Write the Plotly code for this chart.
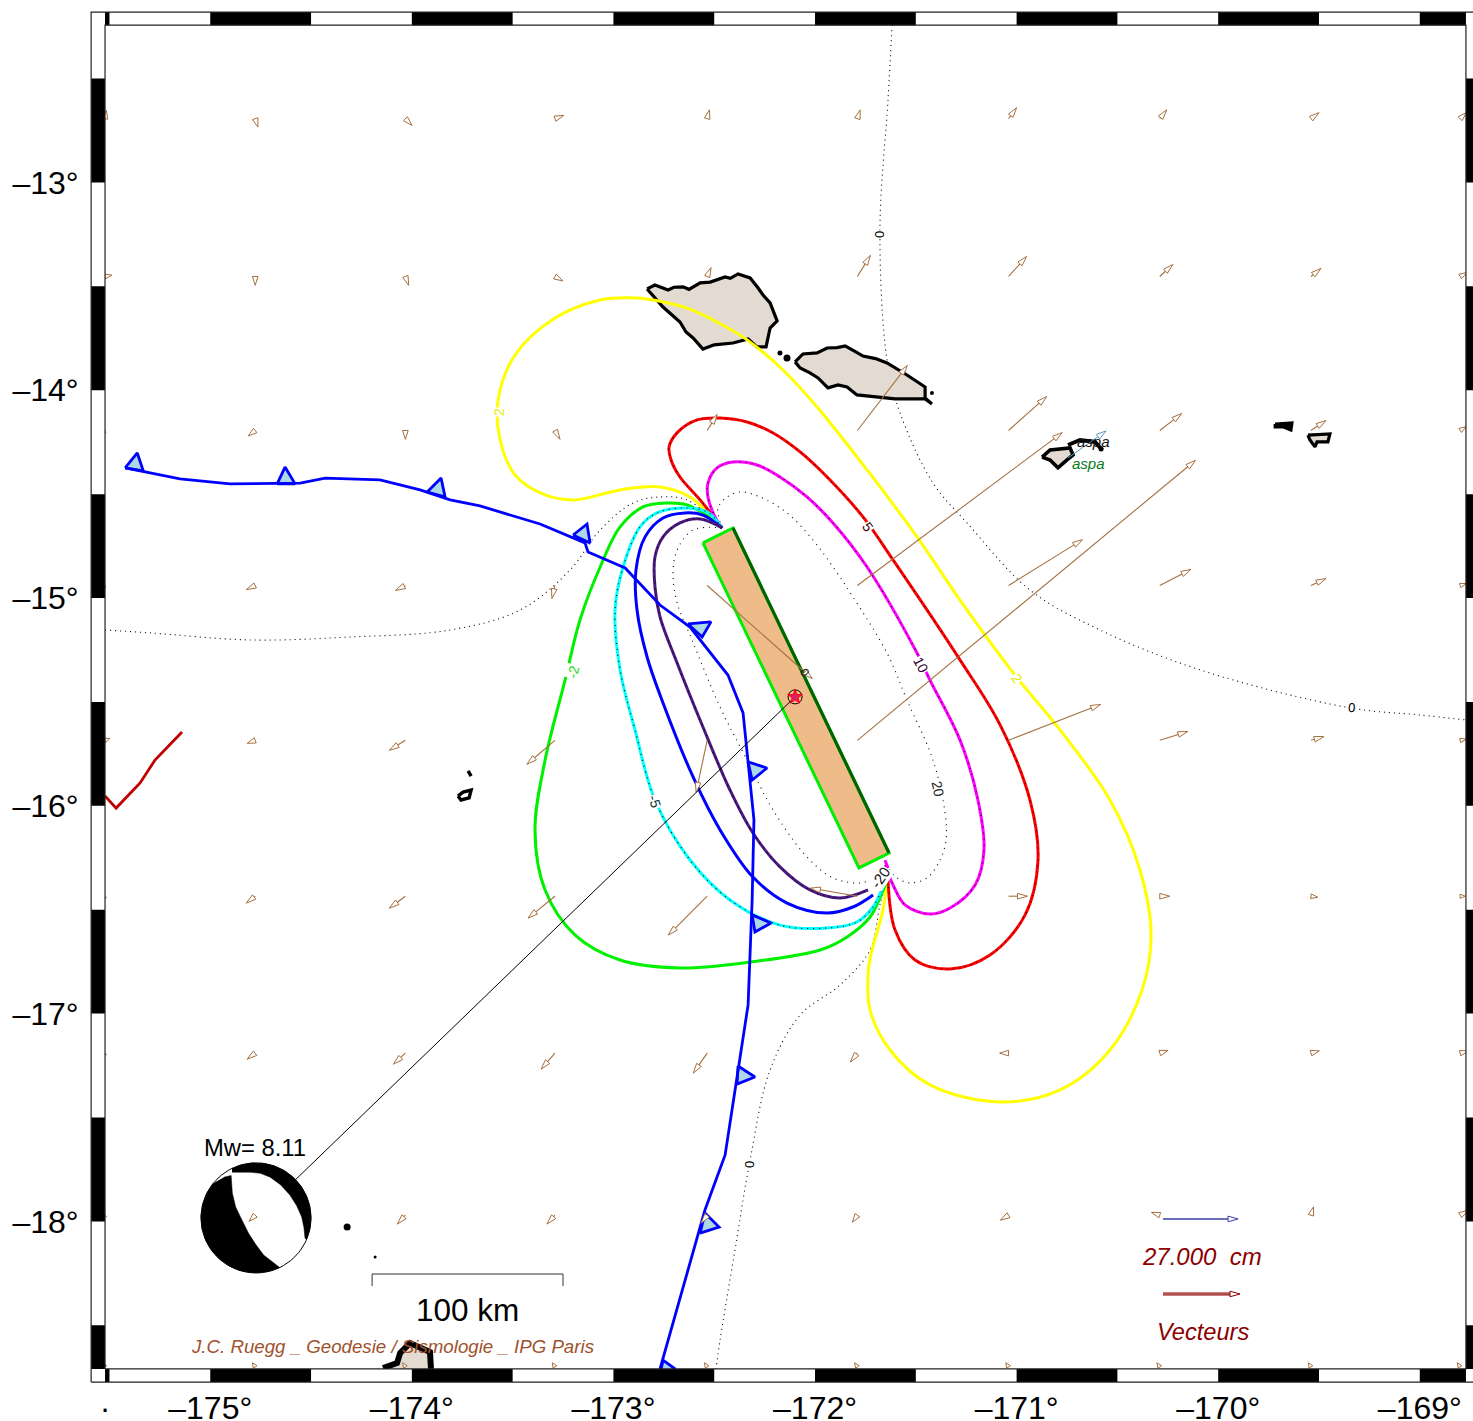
import math
import plotly.graph_objects as go

# ---------- map window (degrees) ----------
LON_FRAME = [-175.522, -168.771]
LAT_FRAME = [-18.710, -12.243]
LON_PAGE = [-176.043, -168.736]
LAT_PAGE = [-18.9605, -12.122]
LON_OUTER = [-175.591, -168.706]
LAT_OUTER = [-18.773, -12.180]
PX_PER_LON = 201.6
PX_PER_LAT = 207.8
PX_PER_CM = 2.78

# ---------- contours of vertical displacement ----------
yellow_lon = [-172.461,-172.546,-172.620,-172.769,-172.967,-173.190,-173.339,-173.488,-173.562,-173.572,-173.488,-173.290,-173.066,-172.918,-172.804,-172.635,-172.486,-172.337,-172.159,-171.990,-171.742,-171.494,-171.281,-171.008,-170.785,-170.537,-170.388,-170.333,-170.378,-170.537,-170.785,-171.082,-171.430,-171.628,-171.727,-171.737,-171.727,-171.663,-171.643]
yellow_lat = [-14.663,-14.577,-14.514,-14.466,-14.480,-14.528,-14.504,-14.408,-14.240,-14.047,-13.831,-13.653,-13.566,-13.556,-13.566,-13.605,-13.672,-13.758,-13.903,-14.081,-14.384,-14.706,-15.010,-15.371,-15.635,-15.972,-16.309,-16.622,-16.886,-17.175,-17.367,-17.425,-17.343,-17.175,-16.983,-16.814,-16.732,-16.501,-16.357]
red_lon = [-172.461,-172.570,-172.670,-172.714,-172.724,-172.680,-172.585,-172.471,-172.337,-172.208,-172.074,-171.940,-171.762,-171.613,-171.281,-171.082,-170.934,-170.894,-170.958,-171.132,-171.330,-171.504,-171.603,-171.638]
red_lat = [-14.663,-14.528,-14.418,-14.336,-14.273,-14.201,-14.143,-14.134,-14.153,-14.206,-14.297,-14.418,-14.610,-14.817,-15.298,-15.611,-15.972,-16.261,-16.525,-16.718,-16.785,-16.742,-16.598,-16.357]
magenta_lon = [-172.461,-172.496,-172.531,-172.531,-172.486,-172.407,-172.288,-172.174,-172.040,-171.911,-171.742,-171.494,-171.430,-171.281,-171.192,-171.162,-171.206,-171.330,-171.430,-171.554,-171.613,-171.653]
magenta_lat = [-14.663,-14.610,-14.514,-14.447,-14.374,-14.346,-14.360,-14.418,-14.514,-14.639,-14.851,-15.265,-15.395,-15.683,-15.972,-16.213,-16.381,-16.492,-16.521,-16.477,-16.381,-16.285]
plus20_lon = [-172.461,-172.481,-172.436,-172.372,-172.273,-172.139,-172.010,-171.911,-171.812,-171.643,-171.544,-171.415,-171.355,-171.350,-171.380,-171.444,-171.529,-171.593,-171.643]
plus20_lat = [-14.663,-14.567,-14.514,-14.490,-14.514,-14.591,-14.721,-14.851,-14.995,-15.265,-15.491,-15.780,-16.035,-16.165,-16.261,-16.347,-16.371,-16.347,-16.294]
purple_lon = [-172.461,-172.570,-172.670,-172.754,-172.794,-172.794,-172.769,-172.684,-172.556,-172.422,-172.308,-172.174,-172.025,-171.876,-171.737]
purple_lat = [-14.663,-14.620,-14.639,-14.706,-14.803,-14.947,-15.091,-15.313,-15.621,-15.924,-16.131,-16.294,-16.405,-16.444,-16.405]
blue_lon = [-172.461,-172.556,-172.645,-172.754,-172.843,-172.888,-172.883,-172.833,-172.754,-172.605,-172.471,-172.308,-172.139,-171.940,-171.812,-171.712]
blue_lat = [-14.663,-14.601,-14.591,-14.615,-14.706,-14.865,-15.058,-15.284,-15.505,-15.861,-16.116,-16.343,-16.468,-16.516,-16.487,-16.429]
cyan_lon = [-172.461,-172.536,-172.655,-172.784,-172.868,-172.952,-172.992,-172.967,-172.893,-172.794,-172.620,-172.422,-172.174,-171.940,-171.792,-171.712,-171.663,-171.643]
cyan_lat = [-14.663,-14.586,-14.567,-14.591,-14.658,-14.851,-15.058,-15.346,-15.635,-15.972,-16.261,-16.453,-16.574,-16.588,-16.559,-16.487,-16.391,-16.347]
green_lon = [-172.461,-172.556,-172.635,-172.734,-172.853,-172.967,-173.066,-173.166,-173.240,-173.339,-173.389,-173.339,-173.190,-172.967,-172.670,-172.322,-171.975,-171.841,-171.727,-171.668,-171.643]
green_lat = [-14.663,-14.591,-14.552,-14.543,-14.562,-14.658,-14.851,-15.106,-15.395,-15.780,-16.116,-16.405,-16.622,-16.742,-16.780,-16.752,-16.694,-16.631,-16.535,-16.420,-16.357]
minus20_lon = [-172.461,-172.605,-172.684,-172.704,-172.684,-172.610,-172.471,-172.337,-172.208,-172.040,-171.911,-171.777,-171.692]
minus20_lat = [-14.663,-14.673,-14.769,-14.880,-15.024,-15.202,-15.525,-15.780,-16.020,-16.246,-16.347,-16.371,-16.343]
zero_east_lon = [-171.618,-171.638,-171.678,-171.643,-171.578,-171.415,-171.246,-170.934,-170.586,-170.090,-169.346,-168.999,-168.771]
zero_east_lat = [-12.243,-12.604,-13.229,-13.855,-14.110,-14.447,-14.639,-14.962,-15.154,-15.346,-15.529,-15.563,-15.587]
zero_west_lon = [-175.522,-175.298,-174.802,-174.306,-173.810,-173.463,-173.215,-173.066,-172.903,-172.769,-172.635,-172.506,-172.461]
zero_west_lat = [-15.154,-15.168,-15.202,-15.188,-15.154,-15.058,-14.865,-14.673,-14.543,-14.514,-14.528,-14.625,-14.663]
zero_south_lon = [-171.643,-171.678,-171.727,-171.876,-172.074,-172.223,-172.322,-172.397,-172.471,-172.491]
zero_south_lat = [-16.357,-16.477,-16.694,-16.862,-17.007,-17.271,-17.704,-18.137,-18.570,-18.710]
tip_lon = [-171.653,-171.638]
tip_lat = [-16.262,-16.300]

# ---------- tectonics ----------
trench_lon = [-175.422,-175.150,-174.902,-174.554,-174.430,-174.158,-173.959,-173.810,-173.662,-173.364,-173.141,-173.126,-172.942,-172.769,-172.620,-172.432,-172.357,-172.332,-172.303,-172.312,-172.322,-172.332,-172.446,-172.546,-172.769]
trench_lat = [-14.374,-14.427,-14.451,-14.447,-14.423,-14.432,-14.480,-14.528,-14.557,-14.644,-14.735,-14.779,-14.856,-15.034,-15.140,-15.371,-15.553,-15.780,-16.068,-16.453,-16.742,-16.958,-17.680,-17.945,-18.710]
barb_lons = [[-175.422,-175.362,-175.332],[-174.668,-174.629,-174.579],[-173.924,-173.855,-173.835],[-173.200,-173.131,-173.116],[-172.630,-172.516,-172.560],[-172.332,-172.238,-172.312],[-172.312,-172.218,-172.298],[-172.382,-172.298,-172.387],[-172.546,-172.476,-172.570],[-172.754,-172.694,-172.769]]
barb_lats = [[-14.374,-14.302,-14.389],[-14.451,-14.370,-14.451],[-14.490,-14.423,-14.514],[-14.697,-14.644,-14.735],[-15.125,-15.115,-15.188],[-15.789,-15.818,-15.876],[-16.525,-16.564,-16.607],[-17.252,-17.305,-17.339],[-17.959,-18.027,-18.056],[-18.667,-18.710,-18.739]]
ridge_lon = [-175.522,-175.467,-175.348,-175.274,-175.140]
ridge_lat = [-15.953,-16.011,-15.890,-15.780,-15.645]
fault_lon = [-172.556,-172.407,-171.633,-171.782]
fault_lat = [-14.735,-14.663,-16.227,-16.299]
epicentre = (-172.099,-15.476)
ball_centre = (-174.773,-17.983)
ball_tie = (-174.579,-17.801)

# ---------- land ----------
savaii_lon = [-172.833,-172.794,-172.729,-172.700,-172.655,-172.625,-172.570,-172.520,-172.446,-172.420,-172.382,-172.322,-172.285,-172.258,-172.223,-172.188,-172.223,-172.243,-172.288,-172.332,-172.407,-172.500,-172.556,-172.605,-172.640,-172.670,-172.754,-172.833]
savaii_lat = [-13.513,-13.494,-13.518,-13.505,-13.503,-13.515,-13.484,-13.480,-13.455,-13.462,-13.441,-13.460,-13.505,-13.542,-13.580,-13.667,-13.701,-13.792,-13.792,-13.754,-13.773,-13.782,-13.802,-13.749,-13.720,-13.672,-13.600,-13.513]
upolu_lon = [-172.099,-172.060,-171.990,-171.940,-171.890,-171.851,-171.800,-171.762,-171.700,-171.643,-171.544,-171.454,-171.454,-171.420,-171.454,-171.603,-171.712,-171.792,-171.841,-171.886,-171.936,-171.985,-172.025,-172.074,-172.099]
upolu_lat = [-13.864,-13.826,-13.821,-13.797,-13.795,-13.787,-13.815,-13.836,-13.848,-13.869,-13.927,-13.985,-14.038,-14.066,-14.042,-14.042,-14.033,-14.023,-13.985,-13.975,-13.989,-13.941,-13.917,-13.893,-13.864]
tutuila_lon = [-170.874,-170.834,-170.735,-170.720,-170.750,-170.795,-170.834,-170.874]
tutuila_lat = [-14.322,-14.288,-14.278,-14.312,-14.336,-14.374,-14.336,-14.322]
rose_lon = [-169.555,-169.446,-169.456,-169.510,-169.520,-169.545,-169.555]
rose_lat = [-14.216,-14.211,-14.249,-14.249,-14.273,-14.240,-14.216]
tonga_lon = [-174.143,-174.073,-174.058,-174.009,-173.910,-173.905]
tonga_lat = [-18.705,-18.681,-18.633,-18.585,-18.628,-18.710]
manua_lon = [-169.718,-169.634,-169.639,-169.679,-169.718,-169.718]
manua_lat = [-14.163,-14.158,-14.192,-14.177,-14.177,-14.163]
reef_lon = [-170.745,-170.686,-170.611,-170.576]
reef_lat = [-14.264,-14.240,-14.249,-14.288]
niua_lon = [-173.721,-173.706,None,-173.771,-173.746,-173.706,-173.716,-173.756,-173.771]
niua_lat = [-15.832,-15.857,None,-15.953,-15.934,-15.924,-15.962,-15.972,-15.953]
islet_lon = [-172.174,-172.139,-171.420,-174.321,-174.182,-170.581]
islet_lat = [-13.821,-13.845,-14.014,-18.027,-18.171,-14.283]
islet_size = [5,7,4,7,3,5]

# ---------- model displacement vectors (cm) on a regular grid ----------
grid_lon = [-175.522,-174.777,-174.032,-173.290,-172.535,-171.790,-171.040,-170.290,-169.540,-168.800]
grid_lat = [-12.694,-13.453,-14.194,-14.940,-15.685,-16.435,-17.190,-17.970,-18.700]
east_cm = [
 [0.5,1.0,2.4,3.2,0.8,1.0,2.9,2.5,2.9,2.2],
 [2.5,0.0,1.2,2.8,1.4,4.7,6.5,4.7,3.6,2.5],
 [-2.8,-2.5,0.0,1.8,3.6,18.0,13.7,7.9,5.4,2.2],
 [-1.5,-3.2,-3.6,-1.1,37.8,73.7,26.6,11.2,5.4,2.2],
 [1.8,-2.9,-5.8,-10.1,-4.0,121.6,33.1,10.1,4.7,2.2],
 [-1.0,-3.2,-5.8,-9.7,-14.0,-16.9,6.8,3.6,2.5,1.8],
 [-1.0,-2.9,-4.3,-5.0,-5.0,-2.5,-3.2,3.0,3.0,3.0],
 [-1.0,-2.2,-2.9,-2.9,-2.2,-1.8,-3.0,-3.0,0.9,3.0],
 [-1.0,-1.0,-1.0,-1.0,-1.0,-1.0,-1.0,-1.0,-1.0,-1.0],
]
north_cm = [
 [3.0,-3.0,-2.4,1.2,3.2,3.2,4.0,3.2,2.2,2.2],
 [0.5,-3.2,-3.2,-1.6,3.2,7.6,7.2,4.3,2.9,1.4],
 [-1.0,-2.0,-3.2,-3.2,5.8,23.4,12.2,6.1,3.6,1.4],
 [-0.5,-1.5,-1.8,-4.7,-33.5,55.0,16.5,5.8,2.5,0.7],
 [0.7,-1.1,-3.6,-8.6,-18.7,100.7,12.9,3.2,1.4,0.4],
 [-1.0,-2.5,-4.3,-7.9,-14.0,2.9,0.0,0.0,-0.4,0.0],
 [-1.0,-2.2,-4.0,-5.8,-7.2,-3.2,0.0,1.0,0.8,0.7],
 [-1.0,-2.2,-3.2,-3.2,-2.9,-2.5,-1.8,1.0,3.0,1.8],
 [1.5,1.5,1.5,1.5,1.5,1.5,1.5,1.5,1.5,1.5],
]
gps_site = (-170.745,-14.326)
gps_cm = (13.7,9.7)
legend_model = (-170.274,-18.349,27.7)
legend_gps = (-170.274,-17.988,27.0)

# ---------- graticule ----------
lon_ticks = [-175.522,-175,-174,-173,-172,-171,-170,-169]
lon_labels = ["·","–175°","–174°","–173°","–172°","–171°","–170°","–169°"]
lat_ticks = [-13,-14,-15,-16,-17,-18]
lat_labels = ["–13°","–14°","–15°","–16°","–17°","–18°"]
black_lon = [(-175.522,-175.5),(-175,-174.5),(-174,-173.5),(-173,-172.5),(-172,-171.5),(-171,-170.5),(-170,-169.5),(-169,-168.771)]
black_lat = [(-12.5,-13),(-13.5,-14),(-14.5,-15),(-15.5,-16),(-16.5,-17),(-17.5,-18),(-18.5,-18.71)]

# ---------- contour labels: text, lon, lat, angle, colour, size ----------
contour_labels = [
 ("2",-173.567,-14.105,-88,"#e8e800",14),
 ("-2",-173.200,-15.356,-75,"#22dd22",14),
 ("2",-171.000,-15.385,55,"#e8e800",14),
 ("5",-171.737,-14.658,55,"#400000",14),
 ("10",-171.474,-15.322,62,"#300030",14),
 ("20",-171.390,-15.919,78,"#222222",14),
 ("-5",-172.794,-15.982,72,"#003333",14),
 ("-20",-171.678,-16.343,-55,"#111111",15),
 ("0",-171.683,-13.249,-90,"#000000",13),
 ("0",-169.341,-15.529,5,"#000000",13),
 ("0",-172.322,-17.728,-90,"#000000",13),
]
SANS = "Liberation Sans"
SIENNA = "#a5703f"
LAND = "#e3dbd1"

fig = go.Figure()
def line(x, y, color, width, dash=None, shape="linear", **kw):
    fig.add_trace(go.Scatter(x=x, y=y, mode="lines", hoverinfo="skip", showlegend=False,
                             line=dict(color=color, width=width, dash=dash, shape=shape, smoothing=1.0), **kw))
def poly(x, y, fill, color, width, **kw):
    fig.add_trace(go.Scatter(x=x, y=y, mode="lines", fill="toself", fillcolor=fill, hoverinfo="skip",
                             showlegend=False, line=dict(color=color, width=width), **kw))

# land
line(zero_east_lon, zero_east_lat, "#000", 1.1, "1px,4px", "spline")
line(zero_west_lon, zero_west_lat, "#000", 1.1, "1px,4px", "spline")
line(zero_south_lon, zero_south_lat, "#000", 1.1, "1px,4px", "spline")
poly(savaii_lon, savaii_lat, LAND, "#000", 3.2)
poly(upolu_lon, upolu_lat, LAND, "#000", 3.2)
poly(tutuila_lon, tutuila_lat, LAND, "#000", 3.6)
poly(rose_lon, rose_lat, LAND, "#000", 3.2)
poly(tonga_lon, tonga_lat, LAND, "#000", 6)
poly(manua_lon, manua_lat, "#000", "#000", 3)
line(reef_lon, reef_lat, "#000", 4)
line(niua_lon, niua_lat, "#000", 3.4)
fig.add_trace(go.Scatter(x=islet_lon, y=islet_lat, mode="markers", hoverinfo="skip", showlegend=False,
                         marker=dict(color="#000", size=islet_size, opacity=1, line=dict(width=0))))

# fault plane
poly(fault_lon+[fault_lon[0]], fault_lat+[fault_lat[0]], "#eebb89", "#00ee00", 3)
line(fault_lon[1:3], fault_lat[1:3], "#006400", 3.2)

# contours
for cx, cy, col, dots in [(plus20_lon,plus20_lat,None,True),(minus20_lon,minus20_lat,None,True),
                          (yellow_lon,yellow_lat,"#ffff00",False),(red_lon,red_lat,"#ff0000",True),
                          (magenta_lon,magenta_lat,"#ff00ff",True),(green_lon,green_lat,"#00f000",False),
                          (cyan_lon,cyan_lat,"#00ffff",True),(blue_lon,blue_lat,"#0000ff",False),
                          (purple_lon,purple_lat,"#4b1a80",True)]:
    if col:
        line(cx, cy, col, 3, None, "spline")
    if dots:
        line(cx, cy, "#000", 1.1, "1px,5px", "spline")
line(tip_lon, tip_lat, "#ff00ff", 3)

# tectonic lines
line(ridge_lon, ridge_lat, "#c00000", 2.8)
for bx, by in zip(barb_lons, barb_lats):
    poly(bx+[bx[0]], by+[by[0]], "#add8e6", "#0000ff", 2.8)
line(trench_lon, trench_lat, "#0000ff", 2.8)

# vectors
def arrows(tails, color, fill, width):
    sx, sy, hx, hy = [], [], [], []
    for lon, lat, e, n in tails:
        dx, dy = e*PX_PER_CM, n*PX_PER_CM
        L = math.hypot(dx, dy)
        if L == 0:
            continue
        ux, uy = dx/L, dy/L
        h = min(10.0, L)
        w = min(2.8, max(2.2, h*0.33))
        tipx, tipy = dx, dy
        bx, by = dx-ux*h, dy-uy*h
        conv = lambda px, py: (lon+px/PX_PER_LON, lat+py/PX_PER_LAT)
        if L > h:
            a, b = conv(0, 0), conv(bx, by)
            sx += [a[0], b[0], None]; sy += [a[1], b[1], None]
        for p in [(tipx, tipy), (bx-uy*w, by+ux*w), (bx+uy*w, by-ux*w), (tipx, tipy)]:
            q = conv(*p); hx.append(q[0]); hy.append(q[1])
        hx.append(None); hy.append(None)
    line(sx, sy, color, width)
    poly(hx, hy, fill, color, 1)

tails = []
for j, la in enumerate(grid_lat):
    for i, lo in enumerate(grid_lon):
        tails.append((lo, la, east_cm[j][i], north_cm[j][i]))
arrows(tails, SIENNA, "#ffffff", 1.1)
arrows([(gps_site[0], gps_site[1], gps_cm[0], gps_cm[1])], "#5a9bbd", "#ffffff", 1)
arrows([(legend_gps[0], legend_gps[1], legend_gps[2], 0)], "#3c3ca8", "#ffffff", 1.5)
end_lon = legend_model[0]+legend_model[2]*PX_PER_CM/PX_PER_LON-0.03
line([legend_model[0], end_lon], [legend_model[1]]*2, "#8b0000", 3)
line([legend_model[0], end_lon], [legend_model[1]]*2, "#e0a0a0", 1)
arrows([(legend_model[0]+0.2, legend_model[1], legend_model[2]-14.5, 0)], "#8b0000", "#ffffff", 0.1)

# scale bar
line([-174.197,-174.197,-173.250,-173.250], [-18.311,-18.253,-18.253,-18.311], "#333", 1)

# focal mechanism tie line and ball
line([epicentre[0], ball_tie[0]], [epicentre[1], ball_tie[1]], "#000", 1)
R_LON, R_LAT = 55/PX_PER_LON, 55/PX_PER_LAT
def rim(a0, a1, n=60):
    return [(math.cos(math.radians(a0+(a1-a0)*k/n)), math.sin(math.radians(a0+(a1-a0)*k/n))) for k in range(n+1)]
def ball_xy(pts):
    return [ball_centre[0]+p[0]*R_LON for p in pts], [ball_centre[1]+p[1]*R_LAT for p in pts]
ball_west_inner = [(0.139,-0.675),(0.0,-0.49),(-0.133,-0.283),(-0.283,0.018),(-0.37,0.2),(-0.43,0.45),(-0.452,0.771),(-0.584,0.741)]
ball_ne_inner = [(0.892,-0.373),(0.87,-0.17),(0.831,0.018),(0.74,0.22),(0.62,0.41),(0.45,0.6),(0.259,0.741),(0.08,0.81),(-0.102,0.831),(-0.434,0.831)]
x, y = ball_xy(rim(0, 360, 120)); poly(x, y, "#ffffff", "#000", 1)
x, y = ball_xy(rim(141.4, 295.5)+ball_west_inner); poly(x, y, "#000", "#000", 0.5)
x, y = ball_xy(rim(115.9, -22.7)+ball_ne_inner); poly(x, y, "#000", "#000", 0.5)
arrows([tails[7*10+1]], SIENNA, "#ffffff", 1)

# epicentre
fig.add_trace(go.Scatter(x=[epicentre[0]], y=[epicentre[1]], mode="markers", hoverinfo="skip", showlegend=False,
                         marker=dict(symbol="circle-open", size=14, color="#000", line=dict(width=1, color="#000"))))
fig.add_trace(go.Scatter(x=[epicentre[0]], y=[epicentre[1]], mode="markers", hoverinfo="skip", showlegend=False,
                         marker=dict(symbol="star", size=11, color="#e0206a", line=dict(width=1, color="#ff0000"))))

# map border on a full-page overlay
bx, by = [], []
for a, b in black_lon:
    bx += [a, b, b, a, a, None]; by += [LAT_FRAME[1], LAT_FRAME[1], LAT_OUTER[1], LAT_OUTER[1], LAT_FRAME[1], None]
    bx += [a, b, b, a, a, None]; by += [LAT_FRAME[0], LAT_FRAME[0], LAT_OUTER[0], LAT_OUTER[0], LAT_FRAME[0], None]
for a, b in black_lat:
    bx += [LON_OUTER[0], LON_FRAME[0], LON_FRAME[0], LON_OUTER[0], LON_OUTER[0], None]; by += [a, a, b, b, a, None]
    bx += [LON_FRAME[1], LON_OUTER[1], LON_OUTER[1], LON_FRAME[1], LON_FRAME[1], None]; by += [a, a, b, b, a, None]
fig.add_trace(go.Scatter(x=bx, y=by, mode="lines", fill="toself", fillcolor="#000", line=dict(width=0), xaxis="x2", yaxis="y2",
                         hoverinfo="skip", showlegend=False))
for xs, ys in [(LON_FRAME, LAT_FRAME), (LON_OUTER, LAT_OUTER)]:
    fig.add_trace(go.Scatter(x=[xs[0], xs[1], xs[1], xs[0], xs[0]], y=[ys[0], ys[0], ys[1], ys[1], ys[0]], mode="lines",
                             line=dict(color="#222", width=1.2), xaxis="x2", yaxis="y2", hoverinfo="skip", showlegend=False))

# texts
def label(t, lon, lat, size, color="#000", italic=False, angle=0, bg=None):
    fig.add_annotation(x=lon, y=lat, xref="x", yref="y", text=t, showarrow=False, textangle=angle,
                       bgcolor=bg, borderpad=0,
                       font=dict(family=SANS, size=size, color=color, style="italic" if italic else "normal"))
for t, lo, la, ang, col, sz in contour_labels:
    label(t, lo, la, sz, col, angle=ang, bg="#ffffff")
label("0", -172.05, -15.361, 12, "#222", angle=60)
label("Mw= 8.11", -174.777, -17.642, 23.8)
label("100 km", -173.726, -18.424, 31.5)
label("J.C. Ruegg _ Geodesie / Sismologie _ IPG Paris", -174.096, -18.604, 18.7, "#a0522d", True)
label("27.000\u00a0\u00a0cm", -170.080, -18.171, 24, "#8b0000", True)
label("Vecteurs", -170.076, -18.532, 23.6, "#8b0000", True)
label("aspa", -170.621, -14.245, 15, "#111", True)
label("aspa", -170.646, -14.355, 15, "#0a7a1a", True)

W, H = 1473, 1421
fig.update_layout(
    width=W, height=H, margin=dict(l=0, r=0, t=0, b=0, autoexpand=False), paper_bgcolor="#fff", plot_bgcolor="rgba(0,0,0,0)",
    showlegend=False,
    xaxis=dict(domain=[105/W, 1466/W], range=LON_FRAME, tickvals=lon_ticks, ticktext=lon_labels, showgrid=False, zeroline=False,
               showline=False, ticks="outside", ticklen=11, tickcolor="rgba(0,0,0,0)", tickfont=dict(family=SANS, size=32, color="#000"), anchor="y"),
    yaxis=dict(domain=[1-1369/H, 1-25/H], range=LAT_FRAME, tickvals=lat_ticks, ticktext=lat_labels, showgrid=False, zeroline=False,
               showline=False, ticks="outside", ticklen=19, tickcolor="rgba(0,0,0,0)", tickfont=dict(family=SANS, size=32, color="#000"), anchor="x"),
    xaxis2=dict(domain=[0, 1], range=LON_PAGE, visible=False, anchor="y2"),
    yaxis2=dict(domain=[0, 1], range=LAT_PAGE, visible=False, anchor="x2"),
)
fig.write_html("out.html", config=dict(displayModeBar=False), post_script="document.body.style.margin='0';")
